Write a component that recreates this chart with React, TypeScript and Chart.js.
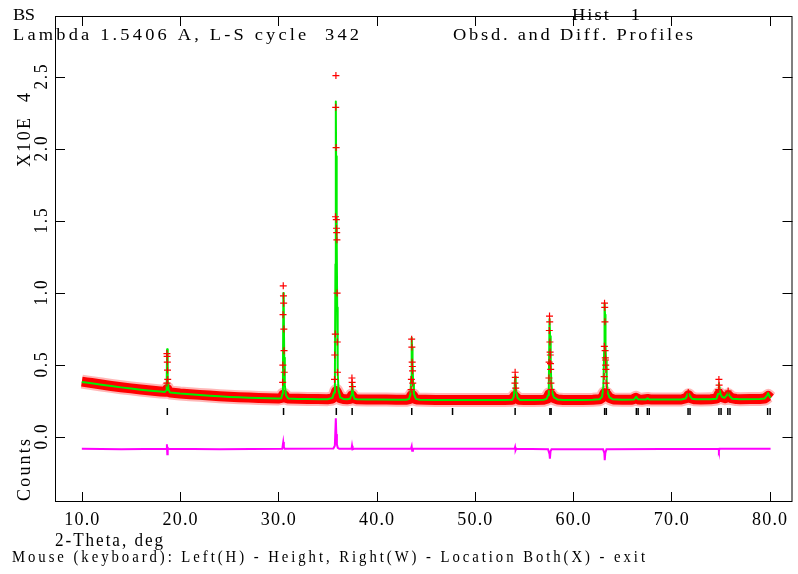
import React, { useEffect, useRef } from "react";
import { Chart, registerables } from "chart.js";

Chart.register(...registerables);

// ---------------- data (intensities in units of 10^4 counts) ----------------
const xTicks = [10, 20, 30, 40, 50, 60, 70, 80];
const xTickLabels = ["10.0", "20.0", "30.0", "40.0", "50.0", "60.0", "70.0", "80.0"];
const yTicks = [0, 0.5, 1.0, 1.5, 2.0, 2.5];
const yTickLabels = ["0.0", "0.5", "1.0", "1.5", "2.0", "2.5"];

// observed profile: dense band (centre of the red band incl. peak bases)
const obsBand: [number, number][] = [
  [10.0, 0.385], [10.5, 0.38], [11, 0.375], [12, 0.365], [13, 0.355], [14, 0.346], [15, 0.338],
  [16, 0.33], [17, 0.323], [18, 0.317], [18.5, 0.314], [18.62, 0.322], [18.7, 0.335], [18.78, 0.32],
  [18.9, 0.312], [19, 0.31], [20, 0.303], [21, 0.298], [22, 0.293], [23, 0.288], [24, 0.284],
  [25, 0.28], [26, 0.277], [27, 0.274], [28, 0.272], [29, 0.27], [30, 0.268], [30.35, 0.272],
  [30.5, 0.295], [30.62, 0.29], [30.8, 0.272], [31, 0.268], [32, 0.266], [33, 0.265], [34, 0.264],
  [35, 0.263], [35.5, 0.268], [35.75, 0.29], [35.9, 0.32], [36.05, 0.3], [36.3, 0.27], [36.6, 0.265],
  [37, 0.263], [37.35, 0.266], [37.5, 0.29], [37.65, 0.27], [38, 0.262], [39, 0.261], [40, 0.26],
  [41, 0.26], [42, 0.259], [43, 0.259], [43.35, 0.263], [43.55, 0.29], [43.7, 0.29], [43.9, 0.265],
  [44.2, 0.26], [45, 0.259], [46, 0.258], [47, 0.258], [48, 0.258], [49, 0.257], [50, 0.257],
  [51, 0.257], [52, 0.257], [53, 0.257], [53.8, 0.259], [54.05, 0.285], [54.25, 0.272], [54.5, 0.259],
  [55, 0.257], [56, 0.257], [57, 0.259], [57.35, 0.266], [57.55, 0.295], [57.75, 0.295], [58, 0.272],
  [58.4, 0.261], [59, 0.258], [60, 0.258], [61, 0.258], [62, 0.259], [62.7, 0.262], [63.0, 0.276],
  [63.2, 0.305], [63.4, 0.3], [63.7, 0.272], [64.1, 0.261], [65, 0.259], [66, 0.259], [66.4, 0.272],
  [66.7, 0.261], [67, 0.259], [67.6, 0.264], [68, 0.26], [69, 0.26], [70, 0.26], [71, 0.261],
  [71.5, 0.27], [71.75, 0.29], [72, 0.27], [72.4, 0.262], [73, 0.261], [74, 0.262], [74.6, 0.267],
  [74.85, 0.3], [75.1, 0.278], [75.5, 0.27], [75.8, 0.29], [76.1, 0.27], [76.6, 0.264], [77, 0.263],
  [78, 0.264], [79, 0.265], [79.5, 0.267], [79.85, 0.285], [80.1, 0.27],
];

// observed points standing out on the Bragg peaks
const obsPeaks: [number, number][] = [
  [18.66, 0.58], [18.68, 0.56], [18.7, 0.52], [18.72, 0.465], [18.74, 0.4], [18.66, 0.375],
  [30.5, 1.05], [30.52, 0.98], [30.54, 0.93], [30.48, 0.85], [30.56, 0.75], [30.58, 0.6],
  [30.46, 0.5], [30.6, 0.45], [30.44, 0.38],
  [35.86, 2.51], [35.84, 2.29], [35.88, 2.01], [35.82, 1.53], [35.9, 1.51], [35.92, 1.45],
  [35.94, 1.42], [35.96, 1.37], [35.98, 1.0], [35.8, 0.715], [36.0, 0.66], [35.74, 0.57],
  [36.02, 0.45], [35.72, 0.4],
  [37.49, 0.41], [37.51, 0.38], [37.54, 0.35],
  [43.57, 0.68], [43.59, 0.625], [43.62, 0.52], [43.64, 0.49], [43.66, 0.46], [43.54, 0.4],
  [43.68, 0.375], [43.52, 0.33],
  [54.1, 0.45], [54.12, 0.415], [54.08, 0.375], [54.16, 0.34],
  [57.6, 0.84], [57.62, 0.8], [57.58, 0.74], [57.64, 0.66], [57.66, 0.59], [57.68, 0.57],
  [57.56, 0.52], [57.7, 0.51], [57.72, 0.47], [57.54, 0.41], [57.74, 0.375], [57.76, 0.33],
  [63.2, 0.93], [63.22, 0.9], [63.24, 0.8], [63.18, 0.63], [63.26, 0.6], [63.28, 0.55],
  [63.3, 0.535], [63.32, 0.5], [63.34, 0.47], [63.16, 0.42], [63.36, 0.375], [63.4, 0.33],
  [71.72, 0.31], [74.84, 0.4], [74.86, 0.36], [74.82, 0.33], [75.78, 0.32],
];

// calculated profile
const calcProfile: [number, number][] = [
  [10.0, 0.383], [11, 0.374], [12, 0.364], [13, 0.354], [14, 0.345], [15, 0.337], [16, 0.329],
  [17, 0.322], [18, 0.316], [18.45, 0.313], [18.58, 0.325], [18.64, 0.4], [18.68, 0.61], [18.72, 0.55],
  [18.76, 0.4], [18.82, 0.33], [18.95, 0.312], [19, 0.31], [20, 0.302], [21, 0.297], [22, 0.292],
  [23, 0.287], [24, 0.283], [25, 0.279], [26, 0.276], [27, 0.273], [28, 0.271], [29, 0.269],
  [30, 0.267], [30.3, 0.27], [30.42, 0.3], [30.47, 0.45], [30.51, 1.0], [30.55, 0.92], [30.6, 0.55],
  [30.66, 0.36], [30.78, 0.29], [31, 0.268], [32, 0.265], [33, 0.264], [34, 0.263], [35, 0.263],
  [35.5, 0.272], [35.68, 0.31], [35.76, 0.45], [35.81, 1.2], [35.85, 2.33], [35.88, 1.95],
  [35.92, 1.45], [35.96, 1.4], [35.99, 0.9], [36.04, 0.45], [36.12, 0.33], [36.3, 0.275],
  [36.6, 0.265], [37, 0.263], [37.3, 0.266], [37.42, 0.29], [37.49, 0.38], [37.54, 0.36],
  [37.6, 0.3], [37.75, 0.266], [38, 0.262], [39, 0.261], [40, 0.26], [42, 0.259], [43, 0.259],
  [43.3, 0.264], [43.45, 0.3], [43.52, 0.42], [43.57, 0.69], [43.61, 0.62], [43.66, 0.52],
  [43.72, 0.37], [43.8, 0.3], [44.0, 0.265], [44.4, 0.259], [46, 0.258], [48, 0.258], [50, 0.257],
  [53, 0.257], [53.8, 0.259], [53.96, 0.28], [54.05, 0.35], [54.1, 0.42], [54.16, 0.38],
  [54.22, 0.31], [54.35, 0.272], [54.6, 0.258], [56, 0.257], [57, 0.259], [57.3, 0.265],
  [57.45, 0.29], [57.53, 0.37], [57.6, 0.82], [57.66, 0.7], [57.72, 0.52], [57.78, 0.38],
  [57.88, 0.31], [58.05, 0.275], [58.4, 0.261], [59, 0.258], [61, 0.258], [62, 0.259],
  [62.7, 0.263], [62.95, 0.28], [63.08, 0.35], [63.16, 0.6], [63.2, 0.93], [63.25, 0.85],
  [63.3, 0.63], [63.36, 0.53], [63.42, 0.39], [63.52, 0.31], [63.7, 0.275], [64.0, 0.263],
  [65, 0.259], [66.2, 0.26], [66.42, 0.28], [66.6, 0.262], [67.4, 0.26], [67.58, 0.27],
  [67.75, 0.26], [69, 0.26], [71, 0.261], [71.45, 0.268], [71.62, 0.29], [71.72, 0.31],
  [71.85, 0.29], [72.1, 0.266], [72.5, 0.262], [74, 0.262], [74.6, 0.266], [74.75, 0.3],
  [74.84, 0.37], [74.92, 0.335], [75.0, 0.3], [75.15, 0.28], [75.4, 0.272], [75.65, 0.29],
  [75.78, 0.31], [75.92, 0.285], [76.2, 0.266], [77, 0.263], [79, 0.265], [79.5, 0.268],
  [79.75, 0.29], [79.85, 0.305], [80.0, 0.28], [80.1, 0.272],
];

// difference curve (obs - calc, plotted with offset)
const diffProfile: [number, number][] = [
  [10, -0.082], [14, -0.084], [18.6, -0.082], [18.66, -0.05], [18.7, -0.12], [18.74, -0.075],
  [18.8, -0.082], [24, -0.084], [30.4, -0.082], [30.5, -0.035], [30.56, -0.07], [30.65, -0.082],
  [35.6, -0.08], [35.75, -0.06], [35.85, 0.13], [35.9, 0.02], [35.96, -0.05], [36.05, -0.075],
  [36.2, -0.082], [37.45, -0.082], [37.5, -0.06], [37.56, -0.085], [37.7, -0.082], [43.5, -0.082],
  [43.57, -0.065], [43.62, -0.095], [43.7, -0.082], [54.05, -0.082], [54.1, -0.07], [54.15, -0.09],
  [54.2, -0.082], [57.45, -0.085], [57.6, -0.12], [57.64, -0.15], [57.7, -0.1], [57.8, -0.085],
  [63.05, -0.085], [63.18, -0.11], [63.22, -0.16], [63.28, -0.11], [63.4, -0.085], [74.8, -0.082],
  [74.84, -0.095], [74.9, -0.082], [80.1, -0.082],
];

// reflection markers
const reflections = [18.7, 30.53, 35.9, 37.51, 43.58, 47.73, 54.1, 57.64, 63.21, 66.44, 67.56, 71.7, 74.84, 75.75, 79.8];
const reflectionsA2 = [57.76, 63.38, 66.62, 67.75, 71.9, 75.06, 75.97, 80.05];
const reflectionLevel = 0.178;

// axis ranges
const X_MIN = 7.269;
const X_MAX = 82.33;
const Y_MIN = -0.451;
const Y_MAX = 2.924;

const FONT = '"Liberation Serif", "Times New Roman", serif';

function drawSpaced(
  ctx: CanvasRenderingContext2D,
  text: string,
  x: number,
  y: number,
  width: number,
  size: number,
  glyphScale: number,
  align: "left" | "center" = "left",
  rot = 0
) {
  ctx.save();
  ctx.font = `${size}px ${FONT}`;
  ctx.textAlign = "left";
  ctx.textBaseline = "alphabetic";
  const chars = Array.from(text);
  const ws = chars.map((c) => ctx.measureText(c).width * glyphScale);
  const natural = ws.reduce((a, b) => a + b, 0);
  const gap = chars.length > 1 ? (width - natural) / (chars.length - 1) : 0;
  ctx.translate(x, y);
  if (rot) ctx.rotate(rot);
  let cx = align === "center" ? -width / 2 : 0;
  chars.forEach((c, i) => {
    ctx.save();
    ctx.translate(cx, 0);
    ctx.scale(glyphScale, 1);
    ctx.fillText(c, 0, 0);
    ctx.restore();
    cx += ws[i] + gap;
  });
  ctx.restore();
}

const framePlugin = {
  id: "gsasFrame",
  afterDraw(chart: any) {
    const { ctx, chartArea: a, scales } = chart;
    const xs = scales.x;
    const ys = scales.y;
    ctx.save();
    ctx.strokeStyle = "#000";
    ctx.lineWidth = 1;
    ctx.strokeRect(a.left + 0.5, a.top + 0.5, a.right - a.left - 1, a.bottom - a.top - 1);
    const T = 10;
    ctx.beginPath();
    xTicks.forEach((v) => {
      const px = Math.round(xs.getPixelForValue(v)) + 0.5;
      ctx.moveTo(px, a.top);
      ctx.lineTo(px, a.top + T);
      ctx.moveTo(px, a.bottom);
      ctx.lineTo(px, a.bottom - T);
    });
    yTicks.forEach((v) => {
      const py = Math.round(ys.getPixelForValue(v)) + 0.5;
      ctx.moveTo(a.left, py);
      ctx.lineTo(a.left + T, py);
      ctx.moveTo(a.right, py);
      ctx.lineTo(a.right - T, py);
    });
    ctx.stroke();

    ctx.fillStyle = "#000";
    // x tick labels
    xTicks.forEach((v, i) => {
      const px = xs.getPixelForValue(v);
      drawSpaced(ctx, xTickLabels[i], px, 525, 35, 19, 0.95, "center");
    });
    // y tick labels (rotated)
    yTicks.forEach((v, i) => {
      const py = ys.getPixelForValue(v);
      drawSpaced(ctx, yTickLabels[i], 47, py, 25, 18, 0.95, "center", -Math.PI / 2);
    });
    // axis titles
    drawSpaced(ctx, "X10E  4", 30, 130, 74, 18, 1.0, "center", -Math.PI / 2);
    drawSpaced(ctx, "Counts", 30, 470, 62, 18, 1.0, "center", -Math.PI / 2);
    drawSpaced(ctx, "2-Theta, deg", 55, 546, 108, 18, 0.95);
    drawSpaced(
      ctx,
      "Mouse (keyboard): Left(H) - Height, Right(W) - Location Both(X) - exit",
      12,
      562,
      633,
      16,
      0.92
    );
    // header
    drawSpaced(ctx, "BS", 13, 20, 22, 16, 1.15);
    drawSpaced(ctx, "Lambda 1.5406 A, L-S cycle  342", 13, 40, 346, 16, 1.15);
    drawSpaced(ctx, "Hist   1", 572, 20, 68, 16, 1.15);
    drawSpaced(ctx, "Obsd. and Diff. Profiles", 453, 40, 240, 16, 1.15);
    ctx.restore();
  },
};

const toXY = (arr: [number, number][]) => arr.map(([x, y]) => ({ x, y }));

export default function App() {
  const ref = useRef<HTMLCanvasElement | null>(null);
  useEffect(() => {
    document.body.style.margin = "0";
    const canvas = ref.current;
    if (!canvas) return;
    const chart = new Chart(canvas, {
      type: "scatter",
      data: {
        datasets: [
          {
            label: "Observed peaks",
            data: toXY(obsPeaks),
            showLine: false,
            pointStyle: "cross",
            pointRadius: 3.5,
            pointBorderColor: "#ff0000",
            pointBackgroundColor: "#ff0000",
            pointBorderWidth: 1.2,
            order: 0,
          },
          {
            label: "Calculated",
            data: toXY(calcProfile),
            showLine: true,
            borderColor: "#00ee00",
            borderWidth: 2,
            borderJoinStyle: "round",
            pointRadius: 0,
            order: 1,
          },
          {
            label: "Observed",
            data: toXY(obsBand),
            showLine: true,
            borderColor: "#ff0000",
            borderWidth: 10,
            borderJoinStyle: "round",
            borderCapStyle: "butt",
            pointRadius: 0,
            order: 2,
          },
          {
            label: "Observed halo",
            data: toXY(obsBand),
            showLine: true,
            borderColor: "rgba(255,50,50,0.35)",
            borderWidth: 14,
            borderJoinStyle: "round",
            pointRadius: 0,
            order: 3,
          },
          {
            label: "Difference",
            data: toXY(diffProfile),
            showLine: true,
            borderColor: "#ff00ff",
            borderWidth: 2,
            pointRadius: 0,
            order: 4,
          },
          {
            label: "Reflections",
            data: reflections.map((x) => ({ x, y: reflectionLevel })),
            showLine: false,
            pointStyle: "line",
            pointRotation: 90,
            pointRadius: 3.5,
            pointBorderColor: "#000",
            pointBorderWidth: 1.5,
            order: 5,
          },
          {
            label: "Reflections a2",
            data: reflectionsA2.map((x) => ({ x, y: reflectionLevel })),
            showLine: false,
            pointStyle: "line",
            pointRotation: 90,
            pointRadius: 3.5,
            pointBorderColor: "#000",
            pointBorderWidth: 1.5,
            order: 6,
          },
        ],
      },
      options: {
        animation: false,
        responsive: false,
        devicePixelRatio: 1,
        events: [],
        layout: { padding: { left: 55, top: 16, right: 1, bottom: 72 } },
        scales: {
          x: { type: "linear", min: X_MIN, max: X_MAX, display: false },
          y: { type: "linear", min: Y_MIN, max: Y_MAX, display: false },
        },
        plugins: { legend: { display: false }, tooltip: { enabled: false } },
      } as any,
      plugins: [framePlugin],
    });
    return () => chart.destroy();
  }, []);
  return (
    <canvas
      ref={ref}
      width={798}
      height={574}
      style={{ display: "block", width: 798, height: 574, background: "#fff" }}
    />
  );
}
